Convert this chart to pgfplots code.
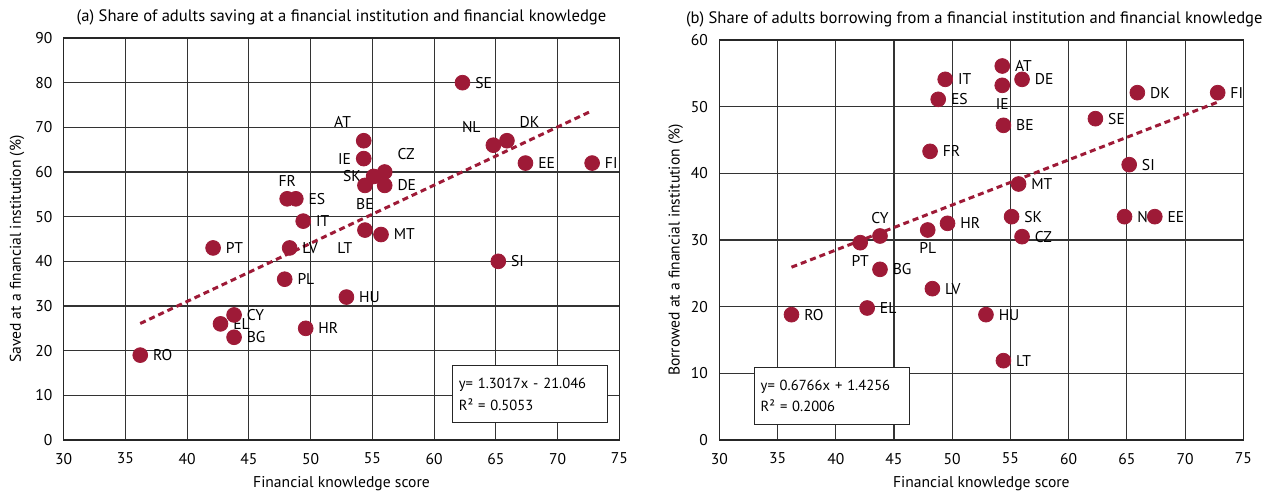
\documentclass[border=0pt]{standalone}
\usepackage{pgfplots}
\pgfplotsset{compat=1.18}
\usepackage{fontspec}
\setmainfont{PT Sans}
\definecolor{mred}{RGB}{158,26,55}

\tikzset{
  lbl/.style={text=black, inner sep=1bp, outer sep=5.4bp,
      font=\fontsize{7.8bp}{9.3bp}\selectfont},
  eqbox/.style={draw=black!85, line width=0.6bp, fill=white, align=left,
      minimum width=77.5bp, minimum height=28.5bp, text width=71bp,
      inner xsep=3.25bp, font=\fontsize{7.3bp}{10.8bp}\selectfont},
}

\pgfplotsset{
  panel/.style={
    scale only axis, clip=false,
    xmin=30, xmax=75, xtick distance=5,
    ymin=0,
    grid=major,
    major grid style={black!80, line width=0.55bp},
    axis line style={black!85, line width=0.7bp},
    major tick length=0pt,
    tick label style={font=\fontsize{7.8bp}{9.3bp}\selectfont},
    /pgf/number format/assume math mode=true,
    xticklabel style={yshift=-3bp},
    yticklabel style={xshift=-2.2bp},
    label style={font=\fontsize{7.8bp}{9.3bp}\selectfont},
    title style={font=\fontsize{8.3bp}{9.9bp}\selectfont, yshift=-3bp},
    xlabel style={at={(axis description cs:0.5,0)}, anchor=center, yshift=-22bp},
  },
  trend/.style={mred, line width=1.5bp, dash pattern=on 3bp off 2bp},
  cty/.style={only marks, mark=*, mark size=3.7bp, color=mred,
    point meta=explicit symbolic, nodes near coords,
    every node near coord/.append style={lbl, anchor=#1}},
}

\begin{document}
\begin{tikzpicture}
% (a) knowledge score vs saved at a financial institution (%)
\begin{axis}[panel,
  width=277.8bp, height=201bp,
  ymax=90, ytick distance=10,
  title={(a) Share of adults saving at a financial institution and financial knowledge},
  xlabel={Financial knowledge score},
  ylabel={Saved at a financial institution (\%)},
  ylabel style={at={(axis description cs:-0.084,0.475)}, anchor=center, rotate=0},
]
\addplot[trend] coordinates {(36.2,26.08) (72.8,73.72)};
\addplot[cty=west] table[meta=lab] {
x y lab
36.2 19 RO
42.1 43 PT
42.7 26 EL
43.8 28 CY
43.8 23 BG
48.8 54 ES
49.4 49 IT
48.3 43 LV
47.9 36 PL
52.9 32 HU
49.6 25 HR
56.0 57 DE
55.7 46 MT
62.3 80 SE
67.4 62 EE
72.8 62 FI
65.2 40 SI
};
\addplot[cty=south] table[meta=lab] {
x y lab
48.1 54 FR
};
\addplot[cty=south east] table[meta=lab] {
x y lab
54.3 67 AT
64.8 66 NL
};
\addplot[cty=east] table[meta=lab] {
x y lab
54.3 63 IE
55.1 59 SK
};
\addplot[cty=south west] table[meta=lab] {
x y lab
56.0 60 CZ
65.9 67 DK
};
\addplot[cty=north] table[meta=lab] {
x y lab
54.4 57 BE
};
\addplot[cty=north east] table[meta=lab] {
x y lab
54.4 47 LT
};
\node[eqbox] at (rel axis cs:0.839,0.114) {y= 1.3017x - 21.046\\R² = 0.5053};
\end{axis}

% (b) knowledge score vs borrowed from a financial institution (%)
\begin{axis}[panel, at={(327.8bp,0)},
  width=262bp, height=200bp,
  ymax=60, ytick distance=10,
  title={(b) Share of adults borrowing from a financial institution and financial knowledge},
  title style={xshift=-3.5bp},
  xlabel={Financial knowledge score},
  ylabel={Borrowed at a financial institution (\%)},
  ylabel style={at={(axis description cs:-0.083,0.475)}, anchor=center, rotate=0},
]
\addplot[trend] coordinates {(36.2,25.92) (72.8,50.68)};
\addplot[cty=west] table[meta=lab] {
x y lab
36.2 18.8 RO
42.7 19.8 EL
43.8 25.6 BG
48.1 43.3 FR
48.8 51.1 ES
49.4 54.1 IT
48.3 22.7 LV
52.9 18.8 HU
49.6 32.5 HR
54.3 56.1 AT
55.1 33.5 SK
56.0 30.5 CZ
54.4 47.2 BE
56.0 54.1 DE
54.4 11.9 LT
55.7 38.4 MT
62.3 48.2 SE
64.8 33.5 NL
65.9 52.1 DK
67.4 33.5 EE
72.8 52.1 FI
65.2 41.3 SI
};
\addplot[cty=north] table[meta=lab] {
x y lab
42.1 29.6 PT
54.3 53.2 IE
47.9 31.5 PL
};
\addplot[cty=south] table[meta=lab] {
x y lab
43.8 30.6 CY
};
\node[eqbox] at (rel axis cs:0.2145,0.11) {y= 0.6766x + 1.4256\\R² = 0.2006};
\end{axis}

\pgfresetboundingbox
\path (-31.85bp,-27.5bp) rectangle (602.65bp,220bp);
\end{tikzpicture}
\end{document}
